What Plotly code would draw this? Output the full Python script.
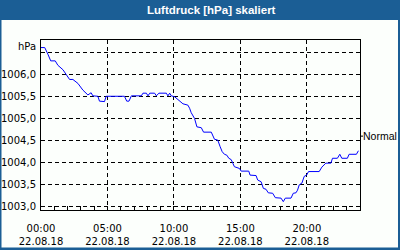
import plotly.graph_objects as go

# data: hours since 00:00 on 22.08.18, pressure in hPa
hours = [0.0, 0.28, 0.52, 0.73, 1.07, 1.27, 1.65, 1.82, 2.15, 2.4, 2.78, 3.15, 3.53, 3.77, 3.9,
         4.28, 4.4, 4.78, 4.9, 6.28, 6.45, 6.62, 6.8, 7.55, 7.67, 7.93, 8.05, 8.18, 8.55, 8.68,
         8.87, 9.43, 9.55, 9.68, 9.8, 10.05, 10.3, 10.43, 10.68, 11.05, 11.18, 11.3, 11.45,
         11.55, 11.73, 12.06, 12.23, 12.81, 13.05, 13.3, 13.48, 13.63, 13.8, 13.98, 14.13,
         14.31, 14.43, 14.55, 14.93, 15.06, 15.63, 15.73, 16.18, 16.3, 16.56, 16.73, 16.93,
         17.1, 17.43, 17.63, 18.06, 18.23, 18.38, 18.81, 18.98, 19.18, 19.3, 19.43, 19.63,
         19.8, 19.98, 20.13, 20.93, 21.13, 21.43, 21.81, 21.93, 22.3, 22.48, 22.63, 23.05,
         23.18, 23.73, 23.88]
pressure = [1006.6, 1006.6, 1006.45, 1006.3, 1006.3, 1006.2, 1006.1, 1006.02, 1005.88, 1005.88,
            1005.79, 1005.64, 1005.53, 1005.58, 1005.51, 1005.5, 1005.39, 1005.38, 1005.5,
            1005.5, 1005.39, 1005.39, 1005.51, 1005.51, 1005.57, 1005.57, 1005.51, 1005.57,
            1005.57, 1005.51, 1005.57, 1005.57, 1005.51, 1005.57, 1005.51, 1005.49, 1005.43,
            1005.38, 1005.33, 1005.3, 1005.23, 1005.13, 1005.03, 1005.0, 1004.81, 1004.79,
            1004.69, 1004.69, 1004.53, 1004.51, 1004.36, 1004.25, 1004.19, 1004.17, 1004.1,
            1004.07, 1003.99, 1003.91, 1003.87, 1003.81, 1003.81, 1003.72, 1003.71, 1003.61,
            1003.57, 1003.42, 1003.4, 1003.32, 1003.31, 1003.21, 1003.2, 1003.12, 1003.2,
            1003.2, 1003.31, 1003.32, 1003.38, 1003.5, 1003.54, 1003.69, 1003.72, 1003.8,
            1003.8, 1003.9, 1003.99, 1003.99, 1004.1, 1004.1, 1004.19, 1004.1, 1004.1, 1004.19,
            1004.19, 1004.27]

x_tickvals = [0, 5, 10, 15, 20]
x_ticktext = ["00:00<br>22.08.18", "05:00<br>22.08.18", "10:00<br>22.08.18",
              "15:00<br>22.08.18", "20:00<br>22.08.18"]
y_tickvals = [1003.0, 1003.5, 1004.0, 1004.5, 1005.0, 1005.5, 1006.0, 1006.5]
y_ticktext = ["1003,0", "1003,5", "1004,0", "1004,5", "1005,0", "1005,5", "1006,0", ""]
title_text = "Luftdruck [hPa] skaliert"
unit_text = "hPa"
normal_text = "Normal"
normal_value = 1004.6

BLUE_FRAME = "#1b5e95"
FONT = "DejaVu Sans"

fig = go.Figure()
fig.add_trace(go.Scatter(x=hours, y=pressure, mode="lines",
                         line=dict(color="#0000ff", width=1), hoverinfo="skip"))

L, R, T, B = 41, 40, 40, 40
W, H = 400, 250
pw, ph = W - L - R, H - T - B

def px(xp):
    return (xp - L) / pw

def py(yp):
    return (H - B - yp) / ph

fig.update_layout(
    width=W, height=H,
    margin=dict(l=L, r=R, t=T, b=B, pad=0, autoexpand=False),
    paper_bgcolor=BLUE_FRAME,
    plot_bgcolor="white",
    showlegend=False,
    font=dict(family=FONT, size=10, color="black"),
    shapes=[
        dict(type="rect", xref="paper", yref="paper", layer="below",
             x0=px(1.5), x1=px(398), y0=py(247.5), y1=py(20),
             fillcolor="#fcfffc", line=dict(width=0)),
        dict(type="line", xref="paper", yref="y", x0=1.0, x1=px(363),
             y0=normal_value, y1=normal_value, line=dict(color="black", width=1)),
    ],
    annotations=[
        dict(text=title_text, xref="paper", yref="paper", x=px(211), y=py(10.5),
             xanchor="center", yanchor="middle", showarrow=False,
             font=dict(family="Liberation Sans", size=11.5, color="white", weight="bold")),
        dict(text=unit_text, xref="paper", yref="paper", x=px(38), y=py(47),
             xanchor="right", yanchor="middle", showarrow=False,
             font=dict(family=FONT, size=10, color="black")),
        dict(text=normal_text, xref="paper", yref="y", x=px(361), y=normal_value,
             xanchor="left", yanchor="middle", showarrow=False,
             font=dict(family="Liberation Sans", size=10.5, color="black")),
    ],
)

fig.update_xaxes(
    range=[0, 24], tickvals=x_tickvals, ticktext=x_ticktext, automargin=False,
    showline=True, linecolor="black", linewidth=1, mirror=True,
    showgrid=True, gridcolor="black", gridwidth=1, griddash="4px,3px",
    zeroline=False, ticks="inside", ticklen=4, tickcolor="black",
    minor=dict(dtick=1, ticks="inside", ticklen=4, tickcolor="black", showgrid=False),
    ticklabelstandoff=9,
)
fig.update_yaxes(
    range=[1002.932, 1006.771], tickvals=y_tickvals, ticktext=y_ticktext, automargin=False,
    showline=True, linecolor="black", linewidth=1, mirror=True,
    showgrid=True, gridcolor="black", gridwidth=1, griddash="4px,3px",
    zeroline=False, ticks="", ticklabelstandoff=2,
)

fig.write_html("out.html")
